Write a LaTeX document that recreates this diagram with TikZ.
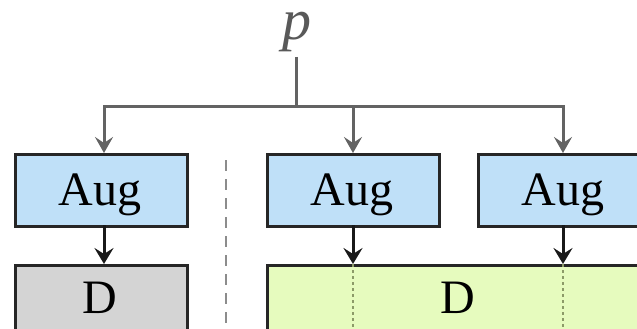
\documentclass[tikz,border=0pt]{standalone}
\usepackage{fontspec}
\setmainfont{Liberation Serif}
\usetikzlibrary{arrows.meta}
\definecolor{augblue}{HTML}{BFE0F8}
\definecolor{dgray}{HTML}{D4D4D4}
\definecolor{dgreen}{HTML}{E6FBBE}
\definecolor{linegray}{HTML}{636363}
\definecolor{dotgreen}{HTML}{8C9A68}
\begin{document}
\begin{tikzpicture}[x=1pt,y=-1pt,
  box/.style={draw=black!85,line width=3pt,inner sep=0pt,anchor=north west},
  bigtext/.style={font=\fontsize{48}{52}\selectfont,inner sep=0pt,anchor=base},
  augbox/.style={box,fill=augblue,minimum width=172pt,minimum height=72pt},
  grayarrow/.style={draw=linegray,line width=3pt,-{Stealth[length=16pt,width=18pt,inset=6pt]}},
  blackarrow/.style={draw=black!90,line width=3pt,-{Stealth[length=16pt,width=19pt,inset=6pt]}}
]
\useasboundingbox (0,0) rectangle (637,329);
\begin{scope}
\clip (0,0) rectangle (637,329);
\fill[white] (0,0) rectangle (637,329);
% p label
\node[text=black!65,font=\fontsize{58}{60}\selectfont\itshape,inner sep=0pt,anchor=base] (p) at (297,40) {p};
\coordinate (ptop) at (296,57);
\coordinate (junc) at (296,106);
% Aug boxes
\node[augbox] (aug1) at (14,153) {};
\node[augbox] (aug2) at (266,153) {};
\node[augbox] (aug3) at (477,153) {};
\node[bigtext] (aug1t) at (100,205) {Aug};
\node[bigtext] (aug2t) at (352,205) {Aug};
\node[bigtext] (aug3t) at (563,205) {Aug};
% D boxes
\node[box,fill=dgray,minimum width=172pt,minimum height=90pt] (d1) at (14,264) {};
\node[bigtext] (d1t) at (100,313) {D};
\node[box,fill=dgreen,minimum width=400pt,minimum height=90pt] (d2) at (266,264) {};
\node[bigtext] (d2t) at (458,313) {D};
% dotted dividers
\coordinate (dv1) at (353,264);
\coordinate (dv1b) at (353,335);
\coordinate (dv2) at (563,264);
\coordinate (dv2b) at (563,335);
\draw[dotgreen,line width=1.6pt,dash pattern=on 3pt off 3pt] (dv1) -- (dv1b);
\draw[dotgreen,line width=1.6pt,dash pattern=on 3pt off 3pt] (dv2) -- (dv2b);
% separator
\coordinate (sep1) at (226,160);
\coordinate (sep2) at (226,335);
\draw[black!45,line width=1.4pt,dash pattern=on 11pt off 8pt] (sep1) -- (sep2);
% tree connectors
\coordinate (j1) at (104,106);
\coordinate (j2) at (353,106);
\coordinate (j3) at (563,106);
\coordinate (a1) at (104,153);
\coordinate (a2) at (353,153);
\coordinate (a3) at (563,153);
\draw[linegray,line width=3pt] (ptop) -- (junc);
\draw[linegray,line width=3pt,line cap=rect] (j1) -- (j3);
\draw[grayarrow] (j1) -- (a1);
\draw[grayarrow] (j2) -- (a2);
\draw[grayarrow] (j3) -- (a3);
% black arrows
\coordinate (b1) at (104,225);
\coordinate (b2) at (353,225);
\coordinate (b3) at (563,225);
\coordinate (e1) at (104,264);
\draw[blackarrow] (b1) -- (e1);
\draw[blackarrow] (b2) -- (dv1);
\draw[blackarrow] (b3) -- (dv2);
\end{scope}
\end{tikzpicture}
\end{document}
